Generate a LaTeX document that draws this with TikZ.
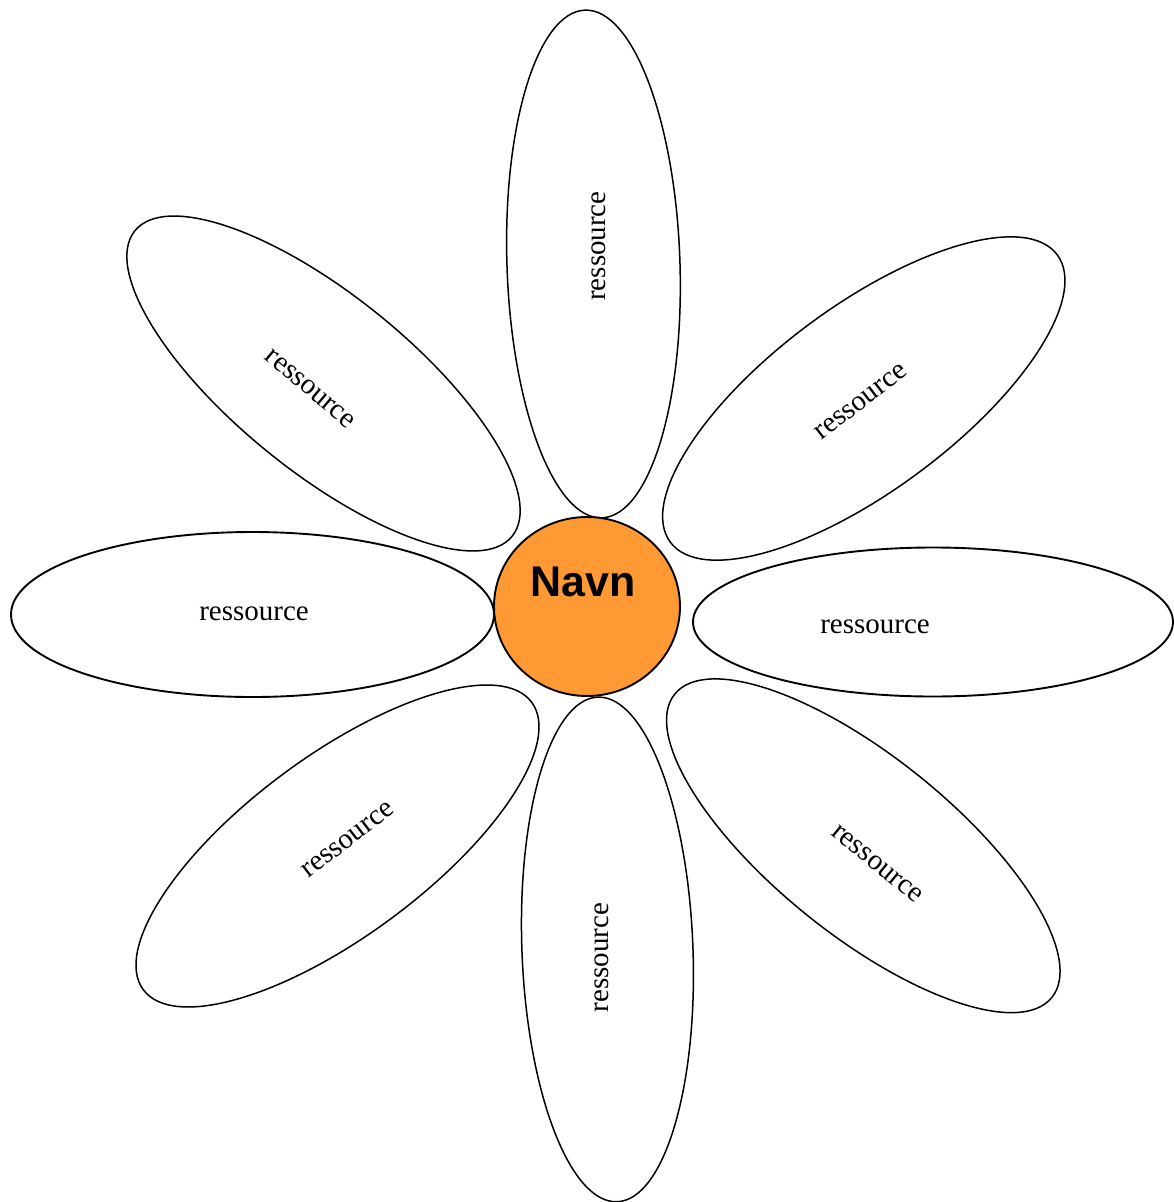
\documentclass[tikz,border=0pt]{standalone}
\usepackage{fontspec}
\setmainfont{Liberation Serif}
\newfontfamily\headfont{Liberation Sans}
\usetikzlibrary{shapes.geometric}
\definecolor{centreorange}{RGB}{255,153,51}
\begin{document}
\begin{tikzpicture}[x=1pt,y=1pt,
  petal/.style={draw=black,line width=1.5pt},
  wide/.style={draw=black,line width=1.9pt},
  lbl/.style={inner sep=0pt,font=\fontsize{29}{32}\selectfont},
  centre/.style={draw=black,line width=1.9pt,fill=centreorange}]
\useasboundingbox (0,0) rectangle (1173,-1202);
% petals
\coordinate (pT) at (593.5,-264);
\coordinate (pB) at (607.5,-949.5);
\coordinate (pL) at (252.5,-614.5);
\coordinate (pR) at (933,-622);
\coordinate (pUL) at (323.5,-383.5);
\coordinate (pUR) at (863.8,-398.5);
\coordinate (pLL) at (337.5,-846);
\coordinate (pLR) at (863.3,-845.8);
\draw[petal,rotate around={1.9:(pT)}] (pT) ellipse [x radius=86.5,y radius=254];
\draw[petal,rotate around={2.2:(pB)}] (pB) ellipse [x radius=85.5,y radius=252.5];
\draw[wide] (pL) ellipse [x radius=241.5,y radius=82.5];
\draw[wide] (pR) ellipse [x radius=240,y radius=74.5];
\draw[petal,rotate around={-39:(pUL)}] (pUL) ellipse [x radius=242.7,y radius=88.2];
\draw[petal,rotate around={36.6:(pUR)}] (pUR) ellipse [x radius=241,y radius=92.2];
\draw[petal,rotate around={36.5:(pLL)}] (pLL) ellipse [x radius=241.6,y radius=90.2];
\draw[petal,rotate around={-38.8:(pLR)}] (pLR) ellipse [x radius=242,y radius=89.3];
% labels
\node[lbl,rotate=90] (tT) at (599,-246) {ressource};
\node[lbl,rotate=90] (tB) at (602,-957.5) {ressource};
\node[lbl] (tL) at (254,-614) {ressource};
\node[lbl] (tR) at (875,-627) {ressource};
\node[lbl,rotate=-40] (tUL) at (310,-389) {ressource};
\node[lbl,rotate=37.5] (tUR) at (861,-402) {ressource};
\node[lbl,rotate=37.5] (tLL) at (348,-840) {ressource};
\node[lbl,rotate=-39.5] (tLR) at (877,-864) {ressource};
% centre
\coordinate (cc) at (587,-606.5);
\draw[centre] (cc) ellipse [x radius=93,y radius=89.5];
\node[inner sep=0pt,font=\headfont\bfseries\fontsize{43}{46}\selectfont] (navn) at (583,-582) {Navn};
\end{tikzpicture}
\end{document}
